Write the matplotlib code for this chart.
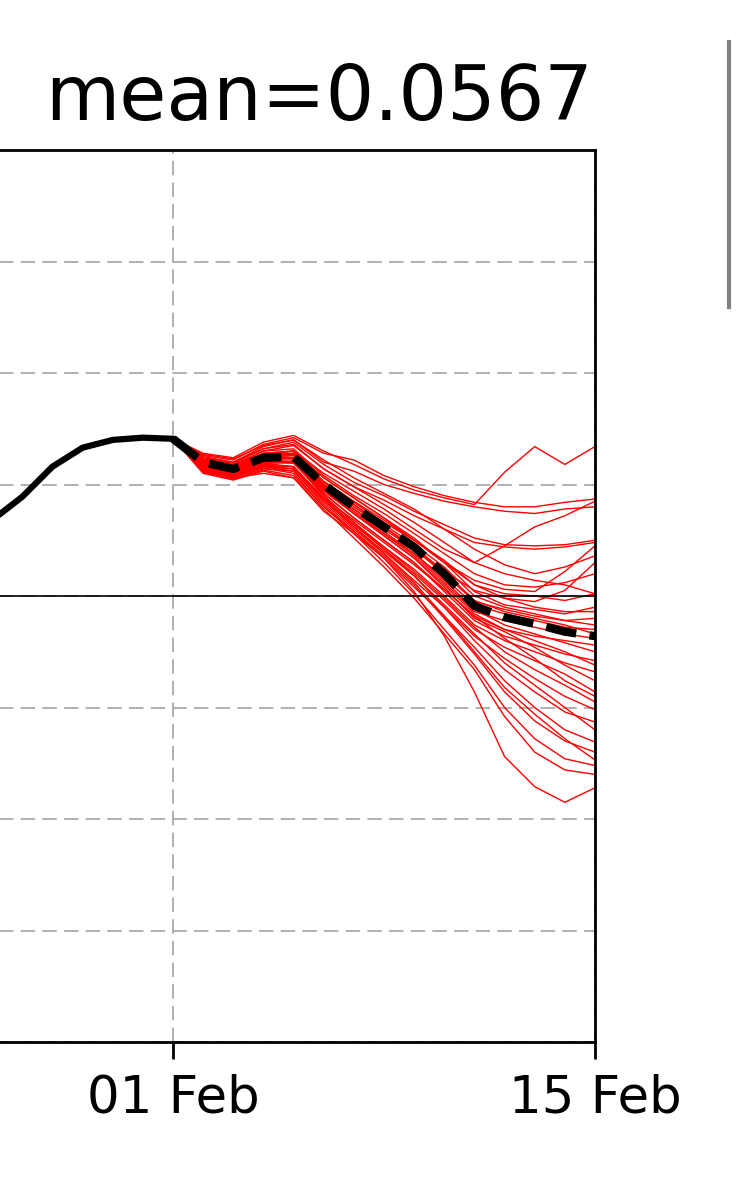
import datetime as dt
import matplotlib
matplotlib.use("Agg")
import matplotlib.pyplot as plt
import matplotlib.dates as mdates
from matplotlib.lines import Line2D

# observed index, daily, up to 01 Feb
obs_start = dt.date(2018, 1, 25)
obs_vals = [0.48, 0.68, 0.89, 1.16, 1.33, 1.40, 1.42, 1.41]

# forecast, daily from 01 Feb to 15 Feb
fc_start = dt.date(2018, 2, 1)
ens_mean = [1.41, 1.20, 1.14, 1.24, 1.25, 1.00, 0.80, 0.62, 0.44, 0.20,
            -0.09, -0.19, -0.25, -0.32, -0.36]

members = [
    [1.41, 1.28, 1.24, 1.38, 1.44, 1.30, 1.18, 1.05, 0.95, 0.88, 0.82, 1.11, 1.34, 1.18, 1.34],
    [1.41, 1.26, 1.22, 1.36, 1.42, 1.28, 1.22, 1.08, 0.98, 0.90, 0.84, 0.80, 0.80, 0.84, 0.87],
    [1.41, 1.24, 1.20, 1.34, 1.40, 1.20, 1.12, 1.00, 0.92, 0.85, 0.80, 0.76, 0.74, 0.78, 0.80],
    [1.41, 1.18, 1.12, 1.26, 1.30, 1.10, 0.94, 0.78, 0.60, 0.42, 0.30, 0.45, 0.62, 0.72, 0.85],
    [1.41, 1.25, 1.20, 1.32, 1.38, 1.18, 1.02, 0.90, 0.76, 0.64, 0.52, 0.46, 0.45, 0.46, 0.50],
    [1.41, 1.22, 1.17, 1.30, 1.35, 1.14, 0.98, 0.86, 0.72, 0.60, 0.48, 0.44, 0.42, 0.44, 0.48],
    [1.41, 1.20, 1.16, 1.28, 1.30, 1.06, 0.88, 0.70, 0.50, 0.30, 0.14, 0.06, 0.04, 0.22, 0.45],
    [1.41, 1.16, 1.10, 1.22, 1.24, 1.00, 0.82, 0.62, 0.42, 0.22, 0.05, -0.02, -0.05, 0.05, 0.30],
    [1.41, 1.22, 1.18, 1.30, 1.32, 1.08, 0.90, 0.74, 0.56, 0.38, 0.20, 0.10, 0.08, 0.12, 0.20],
    [1.41, 1.19, 1.14, 1.26, 1.28, 1.03, 0.85, 0.68, 0.50, 0.30, 0.10, 0.02, 0.00, -0.04, 0.02],
    [1.41, 1.17, 1.11, 1.22, 1.24, 0.98, 0.78, 0.60, 0.42, 0.20, -0.05, -0.12, -0.18, -0.22, -0.20],
    [1.41, 1.15, 1.09, 1.19, 1.20, 0.94, 0.74, 0.56, 0.38, 0.16, -0.08, -0.16, -0.22, -0.28, -0.30],
    [1.41, 1.21, 1.16, 1.26, 1.27, 1.00, 0.80, 0.62, 0.44, 0.22, -0.04, -0.14, -0.20, -0.26, -0.34],
    [1.41, 1.18, 1.13, 1.23, 1.24, 0.97, 0.76, 0.56, 0.36, 0.12, -0.14, -0.22, -0.28, -0.34, -0.38],
    [1.41, 1.14, 1.08, 1.17, 1.16, 0.88, 0.68, 0.48, 0.28, 0.06, -0.18, -0.30, -0.36, -0.40, -0.44],
    [1.41, 1.20, 1.15, 1.25, 1.26, 0.99, 0.78, 0.58, 0.38, 0.14, -0.12, -0.26, -0.34, -0.42, -0.50],
    [1.41, 1.16, 1.11, 1.21, 1.20, 0.92, 0.70, 0.50, 0.30, 0.04, -0.22, -0.36, -0.44, -0.52, -0.58],
    [1.41, 1.13, 1.07, 1.16, 1.14, 0.86, 0.64, 0.44, 0.24, 0.00, -0.26, -0.40, -0.50, -0.60, -0.68],
    [1.41, 1.19, 1.14, 1.24, 1.24, 0.96, 0.74, 0.54, 0.34, 0.08, -0.20, -0.32, -0.46, -0.62, -0.76],
    [1.41, 1.15, 1.09, 1.18, 1.16, 0.88, 0.64, 0.42, 0.20, -0.04, -0.30, -0.46, -0.58, -0.70, -0.86],
    [1.41, 1.17, 1.12, 1.21, 1.20, 0.90, 0.66, 0.44, 0.22, -0.02, -0.28, -0.50, -0.66, -0.80, -0.95],
    [1.41, 1.12, 1.06, 1.14, 1.12, 0.84, 0.60, 0.38, 0.14, -0.10, -0.36, -0.56, -0.74, -0.90, -1.02],
    [1.41, 1.18, 1.13, 1.22, 1.20, 0.90, 0.66, 0.42, 0.18, -0.10, -0.40, -0.66, -0.86, -1.04, -1.13],
    [1.41, 1.14, 1.08, 1.16, 1.12, 0.82, 0.58, 0.34, 0.08, -0.18, -0.46, -0.76, -1.00, -1.20, -1.31],
    [1.41, 1.11, 1.05, 1.13, 1.08, 0.80, 0.58, 0.36, 0.10, -0.20, -0.52, -0.86, -1.12, -1.30, -1.40],
    [1.41, 1.16, 1.10, 1.19, 1.16, 0.86, 0.62, 0.38, 0.12, -0.18, -0.50, -0.82, -1.06, -1.28, -1.47],
    [1.41, 1.13, 1.07, 1.15, 1.10, 0.80, 0.56, 0.30, 0.02, -0.30, -0.62, -1.00, -1.28, -1.46, -1.52],
    [1.41, 1.10, 1.04, 1.12, 1.06, 0.78, 0.52, 0.26, -0.02, -0.34, -0.66, -1.08, -1.40, -1.56, -1.60],
    [1.41, 1.12, 1.06, 1.10, 1.06, 0.76, 0.56, 0.34, 0.04, -0.36, -0.86, -1.44, -1.71, -1.85, -1.72],
    [1.41, 1.21, 1.17, 1.28, 1.30, 1.06, 0.88, 0.70, 0.52, 0.30, 0.04, -0.08, -0.12, -0.16, -0.10],
    [1.41, 1.18, 1.13, 1.24, 1.26, 1.00, 0.82, 0.64, 0.46, 0.26, 0.00, -0.10, -0.16, -0.22, -0.26],
    [1.41, 1.23, 1.19, 1.32, 1.36, 1.14, 0.98, 0.82, 0.66, 0.48, 0.30, 0.20, 0.14, 0.10, 0.02],
    [1.41, 1.20, 1.15, 1.26, 1.28, 1.02, 0.84, 0.66, 0.50, 0.32, 0.10, -0.02, -0.10, -0.14, -0.14],
    [1.41, 1.27, 1.23, 1.35, 1.40, 1.22, 1.06, 0.92, 0.78, 0.60, 0.42, 0.28, 0.20, 0.26, 0.36],
    [1.41, 1.17, 1.12, 1.22, 1.22, 0.95, 0.74, 0.54, 0.34, 0.10, -0.16, -0.30, -0.40, -0.50, -0.62],
    [1.41, 1.15, 1.10, 1.20, 1.19, 0.92, 0.70, 0.50, 0.30, 0.06, -0.18, -0.38, -0.56, -0.76, -0.90],
    [1.41, 1.13, 1.08, 1.17, 1.14, 0.86, 0.62, 0.40, 0.18, -0.08, -0.34, -0.60, -0.80, -1.00, -1.20],
]

title_str = "mean=0.0567"
yticks = [-4, -3, -2, -1, 0, 1, 2, 3, 4]
xlim = (dt.date(2018, 1, 18), dt.date(2018, 2, 15))
xticks = [dt.date(2018, 2, 1), dt.date(2018, 2, 15)]

obs_dates = [obs_start + dt.timedelta(days=i) for i in range(len(obs_vals))]
fc_dates = [fc_start + dt.timedelta(days=i) for i in range(len(ens_mean))]

fig = plt.figure(figsize=(7.37, 12), dpi=100)
# the panel is cropped: its left part lies outside the picture
x0_frac = -249 / 737
ax = fig.add_axes([x0_frac, 1 - 1042 / 1200, 595 / 737 - x0_frac, (1042 - 150) / 1200])

for m in members:
    ax.plot(fc_dates, m, color='red', lw=1.0, zorder=2)
ax.plot(fc_dates, ens_mean, color='black', lw=6, ls='--', zorder=4)
ax.plot(obs_dates, obs_vals, color='black', lw=4.5, zorder=5, solid_capstyle='round')
ax.axhline(0, color='black', lw=1.2, zorder=3)

ax.set_xlim(*xlim)
ax.set_ylim(-4, 4)
ax.set_yticks(yticks)
ax.set_xticks(xticks)
ax.xaxis.set_major_formatter(mdates.DateFormatter('%d %b'))
ax.grid(True, color='#aaaaaa', ls='--', lw=1.3, dashes=(8, 4))
ax.tick_params(axis='x', labelsize=37, length=12, width=2, pad=11)
ax.tick_params(axis='y', labelleft=False, length=12, width=2)
for sp in ax.spines.values():
    sp.set_linewidth(2)

fig.text(319 / 737, 1 - 120 / 1200, title_str, ha='center', va='baseline', fontsize=55)

# edge of the neighbouring panel on the right
fig.add_artist(Line2D([729 / 737, 729 / 737], [1 - 42 / 1200, 1 - 307 / 1200],
                      transform=fig.transFigure, color='0.5', lw=3))

fig.savefig('out.png', dpi=100)
